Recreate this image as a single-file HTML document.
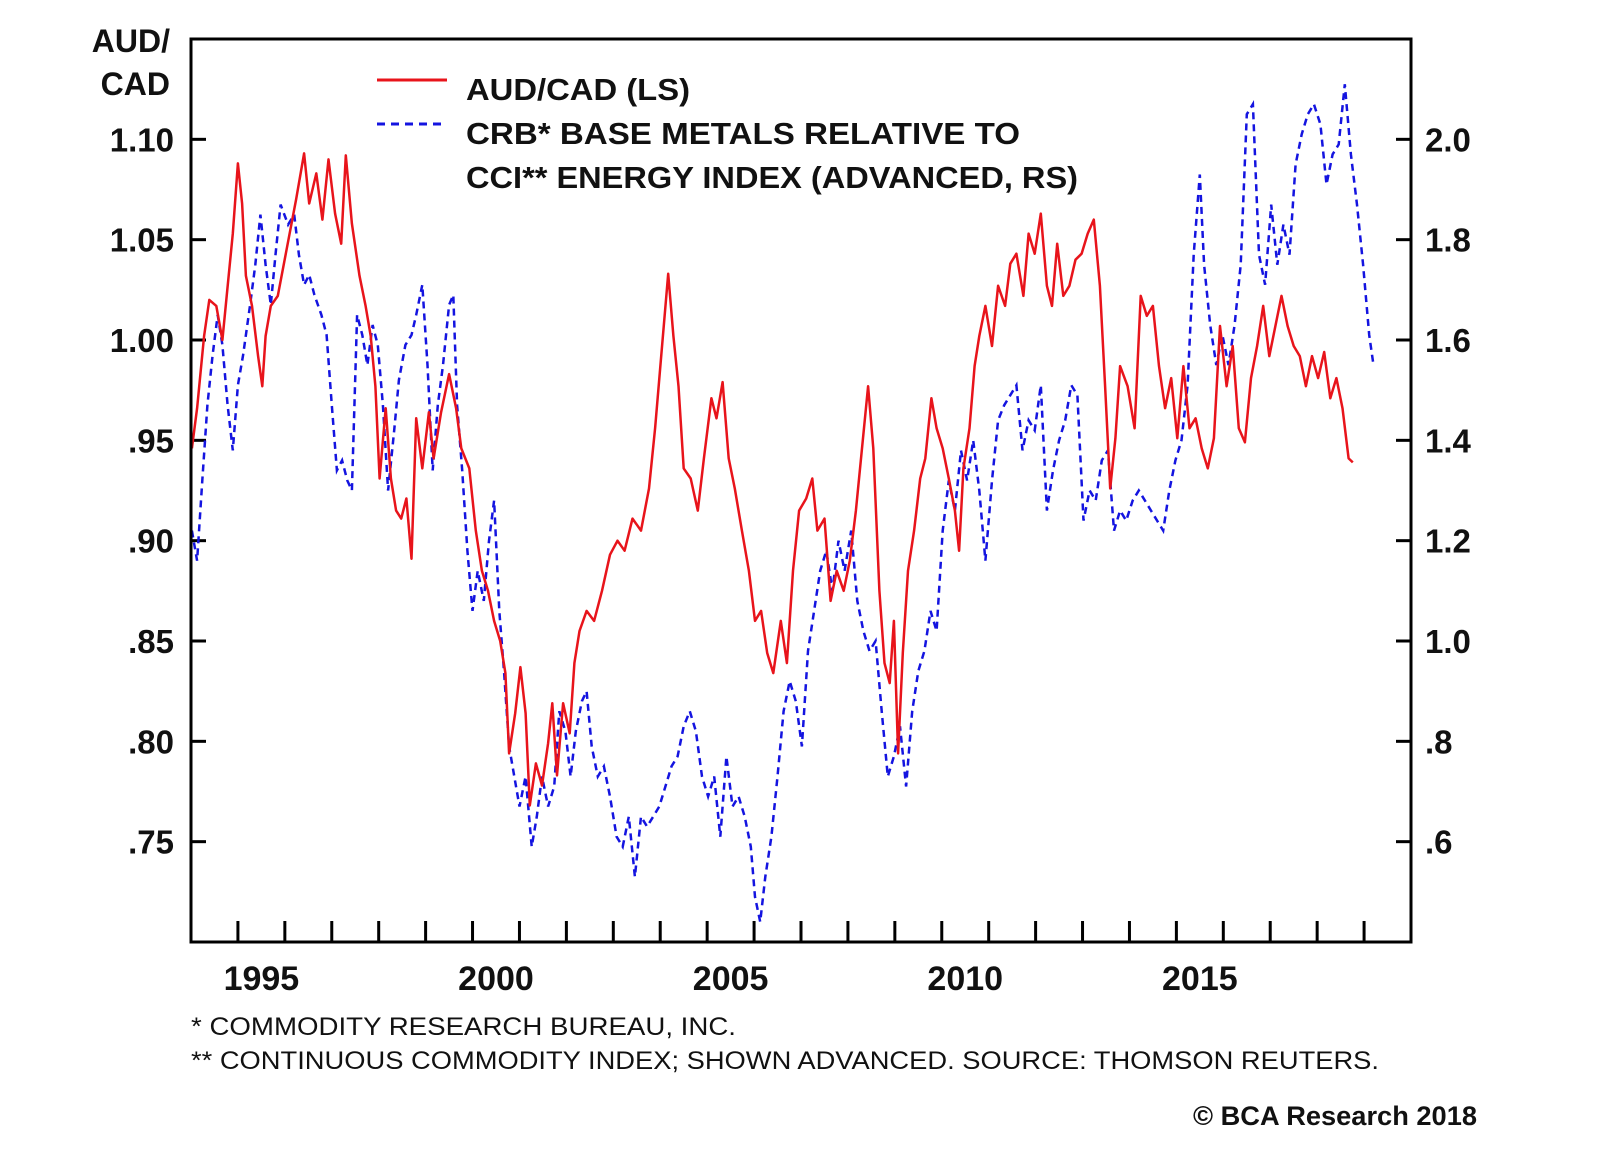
<!DOCTYPE html>
<html><head><meta charset="utf-8">
<style>
html,body{margin:0;padding:0;background:#fff;}
svg{display:block;}
text{font-family:"Liberation Sans",Arial,sans-serif;fill:#111;}
</style></head>
<body>
<svg id="chart" width="1600" height="1152" viewBox="0 0 1600 1152" xmlns="http://www.w3.org/2000/svg">
<rect x="0" y="0" width="1600" height="1152" fill="#fff"/>
<g id="grid"></g>
<g id="series"></g>
<rect x="191" y="39" width="1220" height="903" fill="none" stroke="#000" stroke-width="3"/>
<text x="170" y="52" font-size="32" font-weight="bold" text-anchor="end">AUD/</text>
<text x="170" y="95" font-size="32" font-weight="bold" text-anchor="end">CAD</text>
<g>
<line x1="377" y1="80" x2="447" y2="80" stroke="#e8141b" stroke-width="3"/>
<line x1="377" y1="124" x2="447" y2="124" stroke="#1414e0" stroke-width="3" stroke-dasharray="8,6"/>
<text x="466" y="100" font-size="31" font-weight="bold" textLength="224" lengthAdjust="spacingAndGlyphs">AUD/CAD (LS)</text>
<text x="466" y="144" font-size="31" font-weight="bold" textLength="554" lengthAdjust="spacingAndGlyphs">CRB* BASE METALS RELATIVE TO</text>
<text x="466" y="188" font-size="31" font-weight="bold" textLength="612" lengthAdjust="spacingAndGlyphs">CCI** ENERGY INDEX (ADVANCED, RS)</text>
</g>
<text x="191" y="1035" font-size="25" textLength="545" lengthAdjust="spacingAndGlyphs">*  COMMODITY RESEARCH BUREAU, INC.</text>
<text x="191" y="1069" font-size="25" textLength="1188" lengthAdjust="spacingAndGlyphs">** CONTINUOUS COMMODITY INDEX;  SHOWN ADVANCED.  SOURCE: THOMSON REUTERS.</text>
<text x="1193" y="1125" font-size="27" font-weight="bold" textLength="284" lengthAdjust="spacingAndGlyphs">© BCA Research 2018</text>
</svg>
<script>
const leftTicks = [0.75, 0.80, 0.85, 0.90, 0.95, 1.00, 1.05, 1.10];
const leftTickLabels = [".75", ".80", ".85", ".90", ".95", "1.00", "1.05", "1.10"];
const rightTicks = [0.6, 0.8, 1.0, 1.2, 1.4, 1.6, 1.8, 2.0];
const rightTickLabels = [".6", ".8", "1.0", "1.2", "1.4", "1.6", "1.8", "2.0"];
const yearLabels = [1995, 2000, 2005, 2010, 2015];
const audYears = [1994.02,1994.13,1994.28,1994.39,1994.54,1994.67,1994.76,1994.89,1995.00,1995.09,1995.17,1995.30,1995.43,1995.52,1995.59,1995.70,1995.85,1996.02,1996.24,1996.41,1996.52,1996.67,1996.80,1996.93,1997.07,1997.20,1997.30,1997.43,1997.59,1997.72,1997.83,1997.93,1998.02,1998.15,1998.26,1998.37,1998.48,1998.59,1998.70,1998.80,1998.93,1999.07,1999.17,1999.33,1999.50,1999.65,1999.76,1999.93,2000.07,2000.20,2000.33,2000.46,2000.59,2000.70,2000.78,2000.91,2001.02,2001.13,2001.22,2001.35,2001.48,2001.61,2001.70,2001.80,2001.93,2002.07,2002.17,2002.28,2002.43,2002.59,2002.76,2002.93,2003.09,2003.24,2003.41,2003.59,2003.76,2003.89,2004.02,2004.17,2004.28,2004.39,2004.50,2004.65,2004.80,2004.93,2005.09,2005.20,2005.33,2005.46,2005.59,2005.74,2005.89,2006.02,2006.15,2006.28,2006.41,2006.57,2006.70,2006.83,2006.96,2007.11,2007.24,2007.35,2007.50,2007.63,2007.76,2007.91,2008.04,2008.17,2008.30,2008.43,2008.54,2008.67,2008.78,2008.89,2008.98,2009.07,2009.17,2009.28,2009.41,2009.54,2009.65,2009.78,2009.89,2010.02,2010.15,2010.28,2010.37,2010.46,2010.59,2010.70,2010.80,2010.93,2011.07,2011.20,2011.35,2011.46,2011.59,2011.74,2011.85,2011.98,2012.11,2012.24,2012.35,2012.46,2012.59,2012.72,2012.85,2012.98,2013.11,2013.24,2013.37,2013.48,2013.59,2013.70,2013.80,2013.96,2014.11,2014.24,2014.37,2014.50,2014.63,2014.76,2014.89,2015.02,2015.15,2015.28,2015.41,2015.54,2015.67,2015.80,2015.93,2016.07,2016.20,2016.33,2016.46,2016.59,2016.72,2016.85,2016.98,2017.11,2017.24,2017.37,2017.50,2017.63,2017.76,2017.89,2018.02,2018.15,2018.28,2018.41,2018.54,2018.67,2018.76];
const audValues = [0.946,0.966,1.002,1.02,1.017,1.00,1.022,1.053,1.088,1.068,1.032,1.017,0.992,0.977,1.002,1.017,1.022,1.043,1.07,1.093,1.068,1.083,1.06,1.09,1.063,1.048,1.092,1.058,1.032,1.017,1.002,0.977,0.931,0.966,0.931,0.915,0.911,0.921,0.891,0.961,0.936,0.964,0.941,0.964,0.983,0.966,0.946,0.936,0.905,0.885,0.875,0.86,0.85,0.834,0.794,0.814,0.837,0.814,0.768,0.789,0.778,0.799,0.819,0.783,0.819,0.804,0.839,0.855,0.865,0.86,0.875,0.893,0.90,0.895,0.911,0.905,0.926,0.956,0.992,1.033,1.002,0.977,0.936,0.931,0.915,0.941,0.971,0.961,0.979,0.941,0.926,0.905,0.885,0.86,0.865,0.844,0.834,0.86,0.839,0.885,0.915,0.921,0.931,0.905,0.911,0.87,0.885,0.875,0.89,0.915,0.946,0.977,0.946,0.875,0.839,0.829,0.86,0.794,0.844,0.885,0.905,0.931,0.941,0.971,0.956,0.946,0.931,0.915,0.895,0.936,0.956,0.987,1.002,1.017,0.997,1.027,1.017,1.038,1.043,1.022,1.053,1.043,1.063,1.027,1.017,1.048,1.022,1.027,1.04,1.043,1.053,1.06,1.027,0.977,0.926,0.951,0.987,0.977,0.956,1.022,1.012,1.017,0.987,0.966,0.981,0.951,0.987,0.956,0.961,0.946,0.936,0.951,1.007,0.977,0.997,0.956,0.949,0.981,0.997,1.017,0.992,1.007,1.022,1.007,0.997,0.992,0.977,0.992,0.981,0.994,0.971,0.981,0.966,0.941,0.939];
const crbYears = [1994.02,1994.13,1994.24,1994.35,1994.46,1994.57,1994.67,1994.78,1994.89,1995.00,1995.11,1995.26,1995.37,1995.48,1995.59,1995.70,1995.80,1995.91,1996.07,1996.20,1996.30,1996.41,1996.52,1996.63,1996.78,1996.89,1997.00,1997.11,1997.22,1997.33,1997.43,1997.54,1997.65,1997.76,1997.87,1997.98,1998.09,1998.20,1998.33,1998.43,1998.57,1998.70,1998.80,1998.93,1999.04,1999.15,1999.26,1999.37,1999.50,1999.59,1999.67,1999.78,1999.89,2000.00,2000.11,2000.24,2000.35,2000.46,2000.57,2000.67,2000.78,2000.89,2001.00,2001.13,2001.26,2001.37,2001.48,2001.61,2001.74,2001.85,2001.98,2002.09,2002.20,2002.33,2002.43,2002.54,2002.67,2002.80,2002.93,2003.07,2003.20,2003.33,2003.46,2003.59,2003.72,2003.85,2003.98,2004.11,2004.24,2004.37,2004.50,2004.63,2004.76,2004.89,2005.02,2005.15,2005.28,2005.41,2005.54,2005.67,2005.80,2005.93,2006.02,2006.13,2006.24,2006.37,2006.50,2006.63,2006.76,2006.89,2007.02,2007.15,2007.28,2007.41,2007.54,2007.67,2007.80,2007.93,2008.07,2008.20,2008.33,2008.46,2008.59,2008.72,2008.85,2008.98,2009.11,2009.24,2009.37,2009.50,2009.63,2009.76,2009.89,2010.02,2010.15,2010.28,2010.41,2010.54,2010.67,2010.80,2010.93,2011.07,2011.20,2011.33,2011.46,2011.59,2011.72,2011.85,2011.98,2012.11,2012.24,2012.37,2012.50,2012.63,2012.76,2012.89,2013.02,2013.15,2013.28,2013.41,2013.54,2013.67,2013.80,2013.93,2014.07,2014.20,2014.33,2014.46,2014.59,2014.72,2014.85,2014.98,2015.11,2015.24,2015.37,2015.50,2015.59,2015.72,2015.85,2015.98,2016.11,2016.24,2016.37,2016.50,2016.63,2016.76,2016.89,2017.02,2017.15,2017.28,2017.41,2017.54,2017.67,2017.80,2017.93,2018.07,2018.20,2018.33,2018.46,2018.59,2018.72,2018.85,2018.98,2019.11,2019.20];
const crbValues = [1.22,1.16,1.32,1.47,1.57,1.65,1.59,1.47,1.38,1.51,1.57,1.67,1.75,1.85,1.75,1.67,1.77,1.87,1.83,1.85,1.77,1.71,1.73,1.69,1.65,1.61,1.47,1.34,1.36,1.32,1.30,1.65,1.61,1.55,1.63,1.59,1.47,1.30,1.42,1.52,1.59,1.61,1.65,1.71,1.55,1.34,1.47,1.55,1.67,1.69,1.47,1.34,1.18,1.06,1.14,1.08,1.20,1.28,1.06,0.94,0.79,0.73,0.67,0.73,0.59,0.65,0.73,0.67,0.71,0.86,0.82,0.73,0.82,0.88,0.90,0.79,0.73,0.75,0.69,0.61,0.59,0.65,0.53,0.65,0.63,0.65,0.67,0.71,0.75,0.77,0.83,0.86,0.82,0.73,0.69,0.73,0.61,0.77,0.67,0.69,0.65,0.59,0.49,0.44,0.53,0.61,0.73,0.86,0.92,0.88,0.79,0.98,1.06,1.14,1.18,1.10,1.20,1.14,1.22,1.08,1.02,0.98,1.00,0.86,0.73,0.77,0.83,0.71,0.86,0.94,0.98,1.06,1.02,1.22,1.32,1.26,1.38,1.32,1.40,1.30,1.16,1.32,1.44,1.47,1.49,1.51,1.38,1.44,1.42,1.51,1.26,1.34,1.40,1.44,1.51,1.49,1.24,1.30,1.28,1.36,1.38,1.22,1.26,1.24,1.28,1.30,1.28,1.26,1.24,1.22,1.30,1.36,1.40,1.51,1.77,1.93,1.75,1.63,1.55,1.61,1.55,1.63,1.75,2.05,2.07,1.77,1.71,1.87,1.75,1.83,1.77,1.95,2.01,2.05,2.07,2.03,1.91,1.97,1.99,2.11,1.97,1.87,1.75,1.61,1.55];

const PL = 191, PR = 1411, PT = 39, PB = 942;
const X0 = 1994, X1 = 2020;
const LMIN = 0.70, LMAX = 1.15, RMIN = 0.4, RMAX = 2.2;
const NS = "http://www.w3.org/2000/svg";
function xScale(t){ return PL + (t - X0) / (X1 - X0) * (PR - PL); }
function yLeft(v){ return PB - (v - LMIN) / (LMAX - LMIN) * (PB - PT); }
function yRight(v){ return PB - (v - RMIN) / (RMAX - RMIN) * (PB - PT); }
function mk(tag, attrs, parent){ const e = document.createElementNS(NS, tag); for (const k in attrs) e.setAttribute(k, attrs[k]); parent.appendChild(e); return e; }

const grid = document.getElementById('grid');
leftTicks.forEach((v, i) => {
  const y = yLeft(v);
  const t = mk('line', {x1: PL, y1: y, x2: PL + 15, y2: y, stroke: '#000', 'stroke-width': 3}, grid);
  
  
  const l = mk('text', {x: 174, y: y + 12, 'font-size': 33, 'font-weight': 'bold', 'text-anchor': 'end'}, grid);
  l.textContent = leftTickLabels[i];
  
  
});
rightTicks.forEach((v, i) => {
  const y = yRight(v);
  const t = mk('line', {x1: PR - 15, y1: y, x2: PR, y2: y, stroke: '#000', 'stroke-width': 3}, grid);
  
  
  const l = mk('text', {x: 1425, y: y + 12, 'font-size': 33, 'font-weight': 'bold'}, grid);
  l.textContent = rightTickLabels[i];
  
  
});
for (let yr = X0 + 1; yr < X1; yr++) {
  const x = xScale(yr);
  const t = mk('line', {x1: x, y1: PB - 21, x2: x, y2: PB, stroke: '#000', 'stroke-width': 3}, grid);
  
  
}
yearLabels.forEach(yr => {
  const l = mk('text', {x: xScale(yr + 0.5), y: 990, 'font-size': 34, 'font-weight': 'bold', 'text-anchor': 'middle'}, grid);
  l.textContent = String(yr);
  
  
});

const series = document.getElementById('series');
const crbPts = crbYears.map((t, i) => xScale(t).toFixed(1) + ',' + yRight(crbValues[i]).toFixed(1)).join(' ');
const crb = mk('polyline', {points: crbPts, fill: 'none', stroke: '#1414e0', 'stroke-width': 2.5, 'stroke-dasharray': '7,5'}, series);


const audPts = audYears.map((t, i) => xScale(t).toFixed(1) + ',' + yLeft(audValues[i]).toFixed(1)).join(' ');
const aud = mk('polyline', {points: audPts, fill: 'none', stroke: '#e8141b', 'stroke-width': 2.5, 'stroke-linejoin': 'round'}, series);


</script>
</body></html>
